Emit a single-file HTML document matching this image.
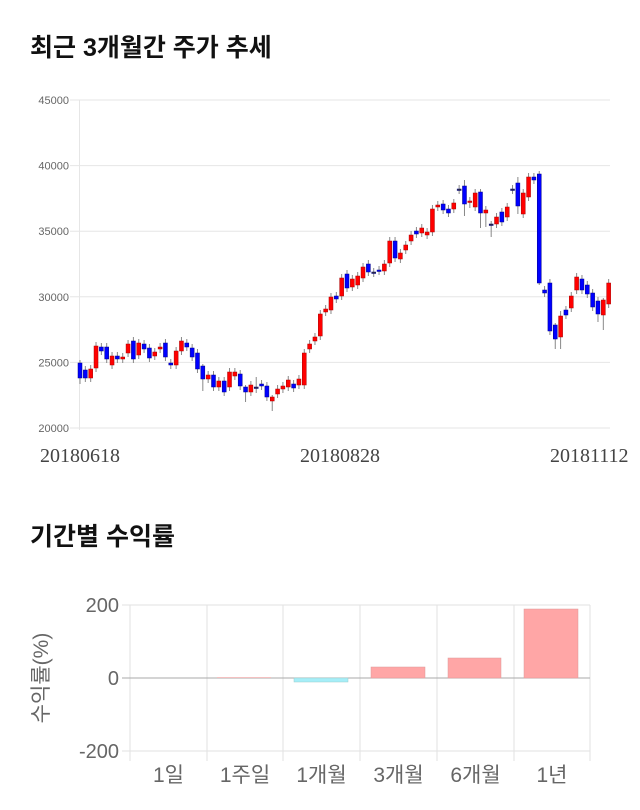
<!DOCTYPE html>
<html><head><meta charset="utf-8"><style>
body{margin:0;background:#fff;width:640px;height:810px;overflow:hidden}
svg{display:block}
</style></head><body>
<svg id="s" width="640" height="810" xmlns="http://www.w3.org/2000/svg" font-family="Liberation Sans, Noto Sans CJK KR, sans-serif">
<text x="30" y="56" font-size="25" font-weight="bold" fill="#111" font-family="Liberation Sans, Noto Sans CJK KR, sans-serif">최근 3개월간 주가 추세</text>
<g id="grid"></g>
<g id="c"></g>
<text x="40" y="462" font-size="20" fill="#444" font-family="Liberation Serif, DejaVu Serif, serif">20180618</text>
<text x="300" y="462" font-size="20" fill="#444" font-family="Liberation Serif, DejaVu Serif, serif">20180828</text>
<text x="550" y="462" font-size="20" fill="#444" font-family="Liberation Serif, DejaVu Serif, serif">20181112</text>
<text x="30" y="545" font-size="25" font-weight="bold" fill="#111">기간별 수익률</text>
<g id="b"></g>
<text transform="translate(48,678) rotate(-90)" text-anchor="middle" font-size="21" fill="#666">수익률(%)</text>
</svg>
<script>
var NS="http://www.w3.org/2000/svg";
function el(p,t,a){var e=document.createElementNS(NS,t);for(var k in a)e.setAttribute(k,a[k]);p.appendChild(e);return e;}
var g=document.getElementById('grid');
var labs=[45000,40000,35000,30000,25000,20000];
for(var i=0;i<6;i++){var y=100+i*65.6;
el(g,'line',{x1:70,x2:610,y1:y,y2:y,stroke:'#e6e6e6'});
var t=el(g,'text',{x:69,y:y+4,'font-size':11,fill:'#666','text-anchor':'end'});t.textContent=labs[i];}
el(g,'line',{x1:79.5,x2:79.5,y1:100,y2:430,stroke:'#e6e6e6'});
var d=[[363,378,'b'],[370,378,'b'],[369,378,'r'],[346,368,'r'],[347,351,'b'],[347,359,'b'],[356,365,'r'],[356,359,'b'],[357,359,'r'],[344,353,'r'],
[341,359,'b'],[343,355,'r'],[344,349,'b'],[348,358,'b'],[352,356,'r'],[347,349,'r'],[343,357,'b'],[363,365,'b'],[351,365,'r'],[341,351,'r'],
[343,347,'b'],[348,357,'b'],[353,369,'b'],[366,379,'b'],[375,379,'r'],[375,387,'b'],[381,387,'r'],[381,392,'b'],[372,387,'r'],[372,376,'r'],
[374,386,'b'],[387,392,'b'],[385,392,'r'],[387,388,'d'],[384,386,'b'],[386,397,'b'],[397,401,'r'],[389,394,'r'],[386,389,'r'],[380,387,'r'],
[384,388,'b'],[379,385,'r'],[353,385,'r'],[344,349,'r'],[337,341,'r'],[314,336,'r'],[309,312,'r'],[297,310,'r'],[296,299,'b'],[278,296,'r'],
[274,288,'b'],[279,287,'r'],[276,285,'r'],[267,278,'r'],[264,272,'b'],[272,273,'d'],[270,271,'b'],[264,271,'r'],[241,263,'r'],[241,258,'b'],
[253,259,'r'],[245,250,'r'],[235,241,'r'],[231,234,'b'],[228,233,'r'],[232,235,'r'],[209,232,'r'],[205,207,'r'],[204,210,'b'],[209,213,'b'],
[203,209,'r'],[189,190,'d'],[186,204,'b'],[201,202,'r'],[193,207,'r'],[192,213,'b'],[210,213,'r'],[224,225,'d'],[217,224,'r'],[212,222,'b'],
[207,217,'r'],[189,190,'d'],[183,206,'b'],[193,214,'r'],[177,197,'r'],[177,180,'b'],[174,283,'b'],[290,293,'b'],[283,331,'b'],[325,339,'b'],
[316,337,'r'],[310,315,'b'],[296,308,'r'],[277,290,'r'],[279,290,'b'],[285,294,'b'],[293,307,'b'],[301,314,'b'],[300,315,'r'],[283,304,'r']];
var wk={33:[10,5],75:[3,15],76:[4,14],77:[3,12],86:[3,2],89:[2,10],90:[5,12],97:[4,8],98:[2,15],72:[6,12],82:[6,8],73:[4,6],0:[3,6],23:[2,12],31:[2,10],36:[2,10]};
var c=document.getElementById('c');
for(var i=0;i<d.length;i++){var x=80+i*5.34,a=d[i],w=wk[i]||[4,4];
el(c,'line',{x1:x,x2:x,y1:a[0]-w[0],y2:a[1]+w[1],stroke:'#888','stroke-width':1});
var col=a[2]=='r'?'#ff0000':a[2]=='b'?'#0000ff':'#333';
el(c,'rect',{x:x-2,y:a[0],width:4,height:Math.max(1.5,a[1]-a[0]),fill:col,stroke:a[2]=='r'?'#a00':'#008','stroke-width':0.5});}
var b=document.getElementById('b');
var gx=[130,207,283,360,437,514,590];
for(var i=0;i<7;i++)el(b,'line',{x1:gx[i],x2:gx[i],y1:605,y2:761,stroke:'#e2e2e2'});
[[605,'200'],[678,'0'],[751,'-200']].forEach(function(p){el(b,'line',{x1:122,x2:590,y1:p[0],y2:p[0],stroke:p[1]=='0'?'#aaa':'#e2e2e2'});
var t=el(b,'text',{x:119,y:p[0]+7,'font-size':20,fill:'#666','text-anchor':'end'});t.textContent=p[1];});
el(b,'rect',{x:217,y:677,width:54,height:1,fill:'#f4c0c0'});
el(b,'rect',{x:294,y:678,width:54,height:4,fill:'#a6eef8',stroke:'#9cc','stroke-width':0.5});
el(b,'rect',{x:371,y:667,width:54,height:11,fill:'#ffa6a6',stroke:'#d99','stroke-width':0.5});
el(b,'rect',{x:448,y:658,width:53,height:20,fill:'#ffa6a6',stroke:'#d99','stroke-width':0.5});
el(b,'rect',{x:524,y:609,width:54,height:69,fill:'#ffa6a6',stroke:'#d99','stroke-width':0.5});
var xl=['1일','1주일','1개월','3개월','6개월','1년'];
for(var i=0;i<6;i++){var t=el(b,'text',{x:(gx[i]+gx[i+1])/2,y:782,'font-size':21,fill:'#666','text-anchor':'middle'});t.textContent=xl[i];}
</script>
</body></html>
